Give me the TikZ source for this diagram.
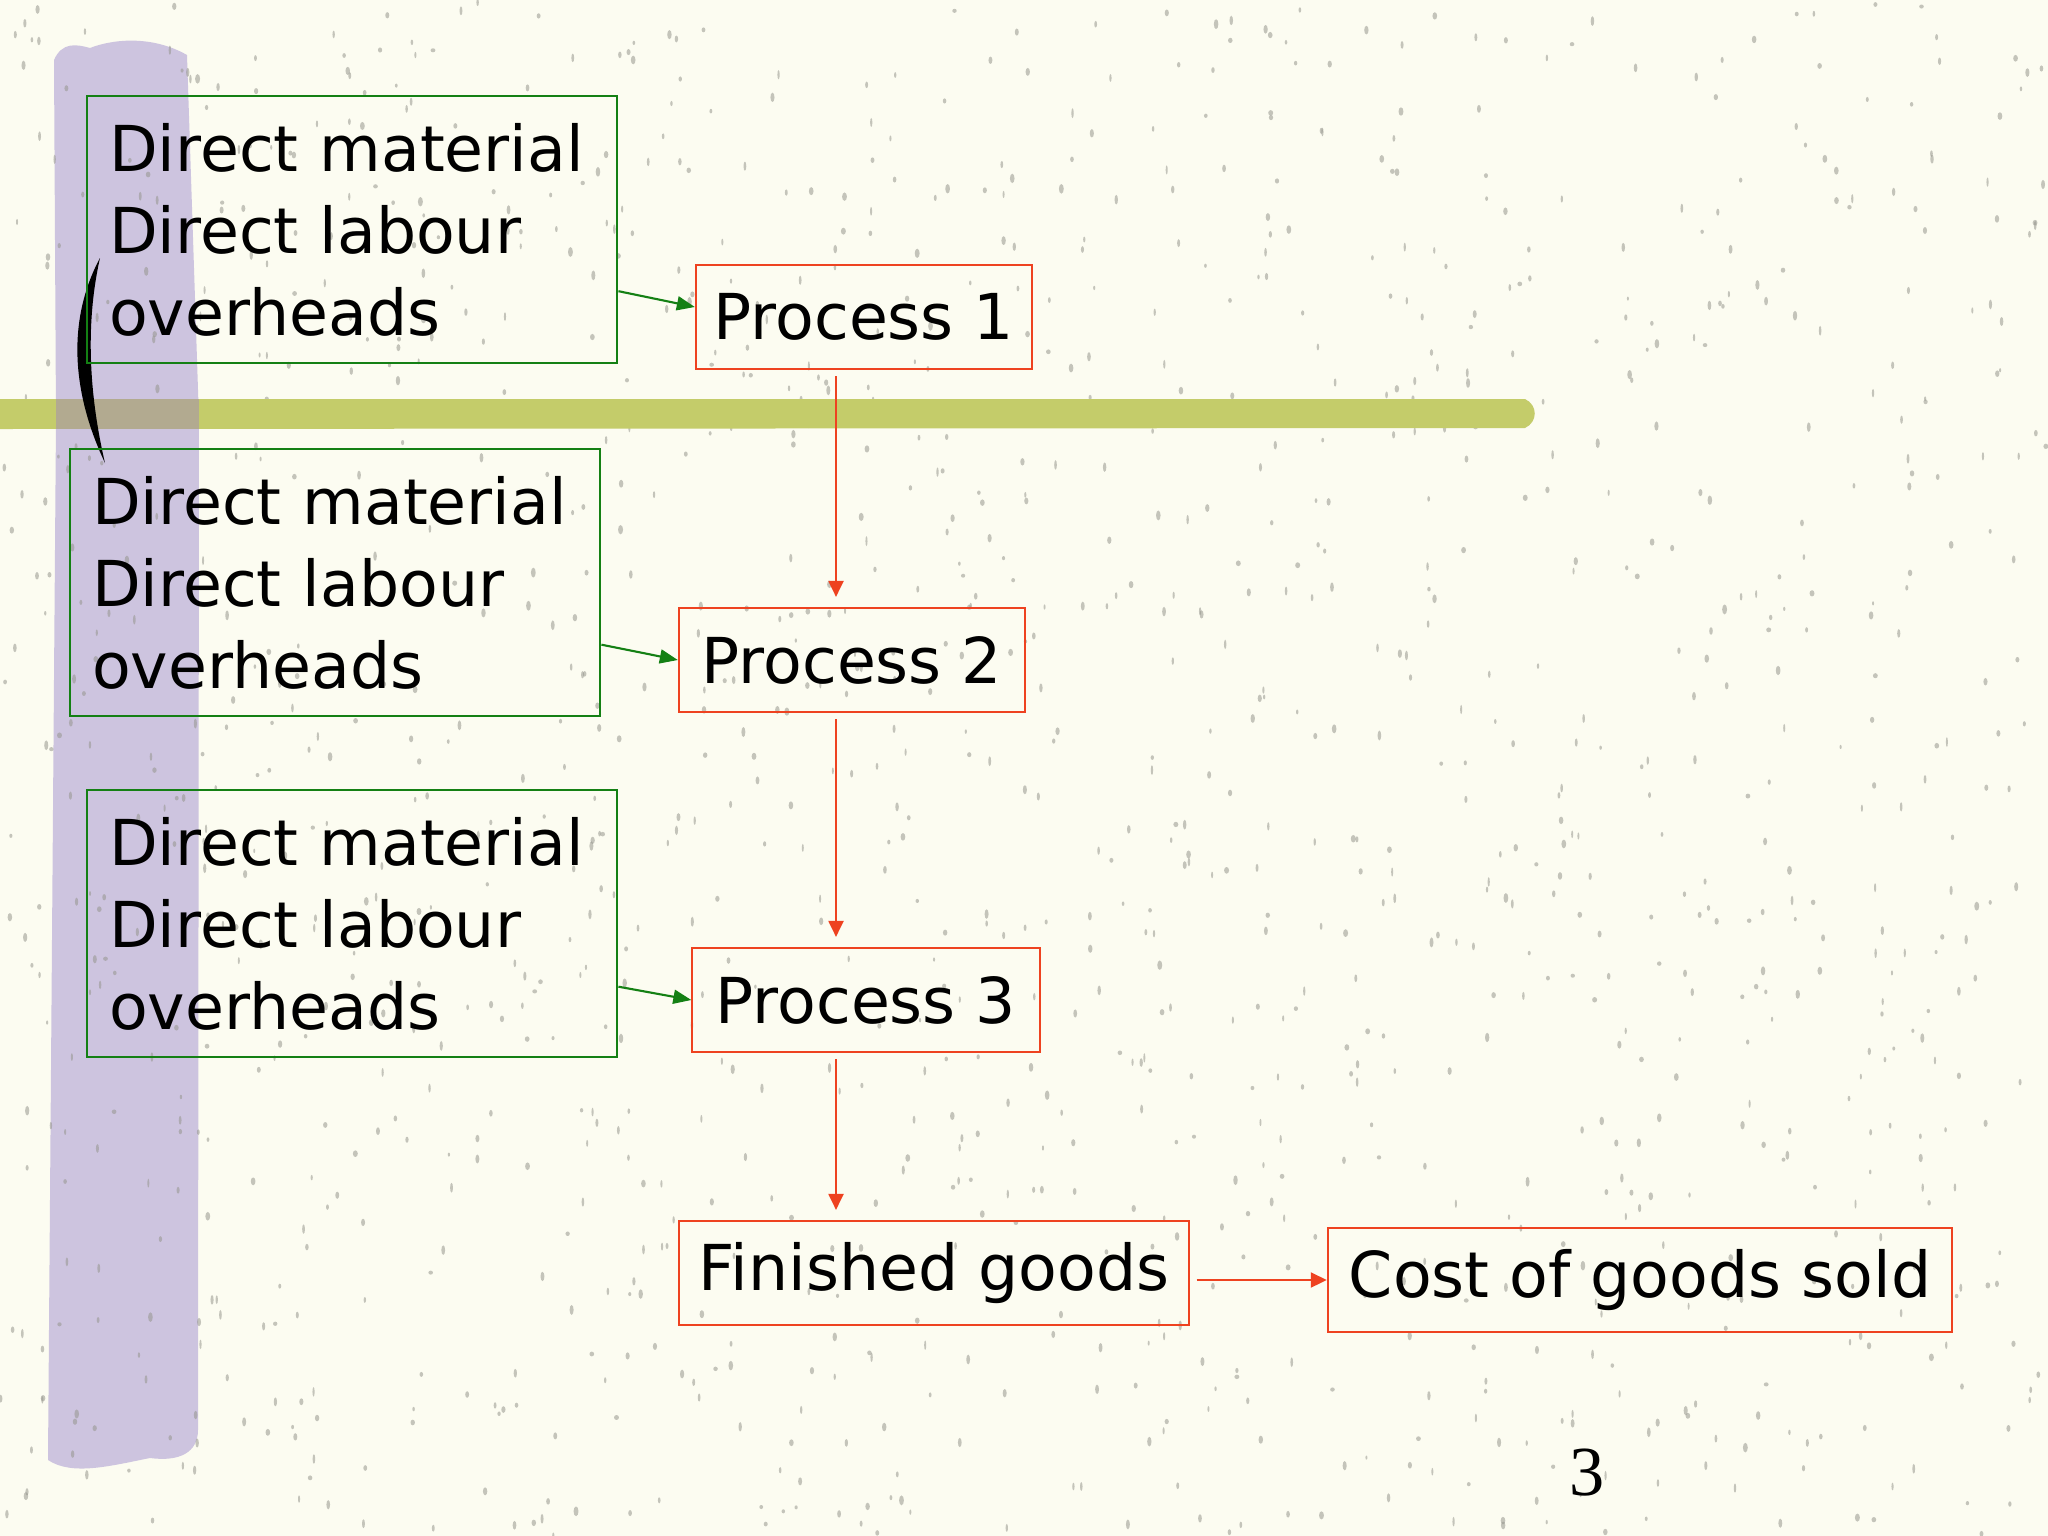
\documentclass[tikz,border=0pt]{standalone}
\usepackage{fontspec}
\setmainfont{DejaVu Sans}
\newfontfamily\pagefont{Liberation Serif}
\usetikzlibrary{arrows.meta}
\definecolor{paper}{RGB}{252,252,241}
\definecolor{lilac}{RGB}{205,196,223}
\definecolor{olivebar}{RGB}{196,204,106}
\definecolor{mixbar}{RGB}{178,170,144}
\definecolor{speck}{RGB}{150,150,142}
\definecolor{boxgreen}{RGB}{20,128,20}
\definecolor{boxred}{RGB}{238,66,32}

\begin{document}
\begin{tikzpicture}[x = 0.01cm, y = -0.01cm,
    cost/.style = {draw = boxgreen, line width = 0.6pt, anchor = north west, align = left,
        inner xsep = 0.22cm, text width = 4.86cm, minimum height = 2.67cm,
        font = \fontsize{18}{23.3}\selectfont},
    stage/.style = {draw = boxred, line width = 0.6pt, minimum height = 1.04cm,
        font = \fontsize{18}{22}\selectfont},
    feed/.style = {draw = boxgreen, line width = 0.6pt, -{Triangle[length = 0.18cm, width = 0.14cm]}},
    flow/.style = {draw = boxred, line width = 0.6pt, -{Triangle[length = 0.16cm, width = 0.15cm]}}]%
    \useasboundingbox (0, 0) rectangle (2048, 1536);
    \fill[paper] (0, 0) rectangle (2048, 1536);
    \fill[lilac] (54, 60) .. controls (62, 42) and (76, 44) .. (90, 48)
        .. controls (110, 40) and (150, 34) .. (187, 55) -- (199, 420) -- (198, 1430)
        .. controls (198, 1452) and (180, 1462) .. (150, 1458)
        .. controls (110, 1466) and (72, 1476) .. (48, 1460) -- (56, 420) -- cycle;
    \pgfmathsetseed{11}
    \foreach \k in {1, ..., 1400}
        \fill[speck, opacity = 0.55] ({rnd*2048}, {rnd*1536}) ellipse ({1 + rnd*1.5} and {2 + rnd*3});
    \fill[olivebar] (0, 399) -- (1525, 399) .. controls (1538, 405) and (1538, 422) .. (1525, 428)
        -- (0, 429) -- cycle;
    \fill[mixbar] (56, 399) rectangle (199, 429);
    \fill[black] (100, 258) .. controls (72, 310) and (66, 380) .. (105, 463)
        .. controls (88, 390) and (86, 320) .. (100, 258) -- cycle;
    \node[cost] (m1) at (86, 95) {Direct material\\Direct labour\\overheads};
    \node[cost] (m2) at (69, 448) {Direct material\\Direct labour\\overheads};
    \node[cost] (m3) at (86, 789) {Direct material\\Direct labour\\overheads};
    \node[stage, minimum width = 3.36cm] (p1) at (864, 317) {Process 1};
    \node[stage, minimum width = 3.46cm] (p2) at (852, 660) {Process 2};
    \node[stage, minimum width = 3.47cm] (p3) at (866, 1000) {Process 3};
    \node[stage, minimum width = 5.09cm] (fg) at (934, 1273) {Finished goods};
    \node[stage, minimum width = 6.24cm] (cogs) at (1640, 1280) {Cost of goods sold};
    \node[font = \pagefont\fontsize{20}{24}\selectfont] (pg) at (1587, 1473) {3};
    \coordinate (col) at (836, 0);
    \draw[feed] ([yshift = -0.615cm] m1.east) -- ([yshift = 0.1cm] p1.west);
    \draw[feed] ([yshift = -0.62cm] m2.east) -- (p2.west);
    \draw[feed] ([yshift = -0.63cm] m3.east) -- (p3.west);
    \draw[flow, shorten < = 0.06cm, shorten > = 0.1cm] (p1.south -| col) -- (p2.north -| col);
    \draw[flow, shorten < = 0.06cm, shorten > = 0.1cm] (p2.south -| col) -- (p3.north -| col);
    \draw[flow, shorten < = 0.06cm, shorten > = 0.1cm] (p3.south -| col) -- (fg.north -| col);
    \draw[flow, shorten < = 0.07cm] (fg.east |- cogs.west) -- (cogs.west);
\end{tikzpicture}
\end{document}
